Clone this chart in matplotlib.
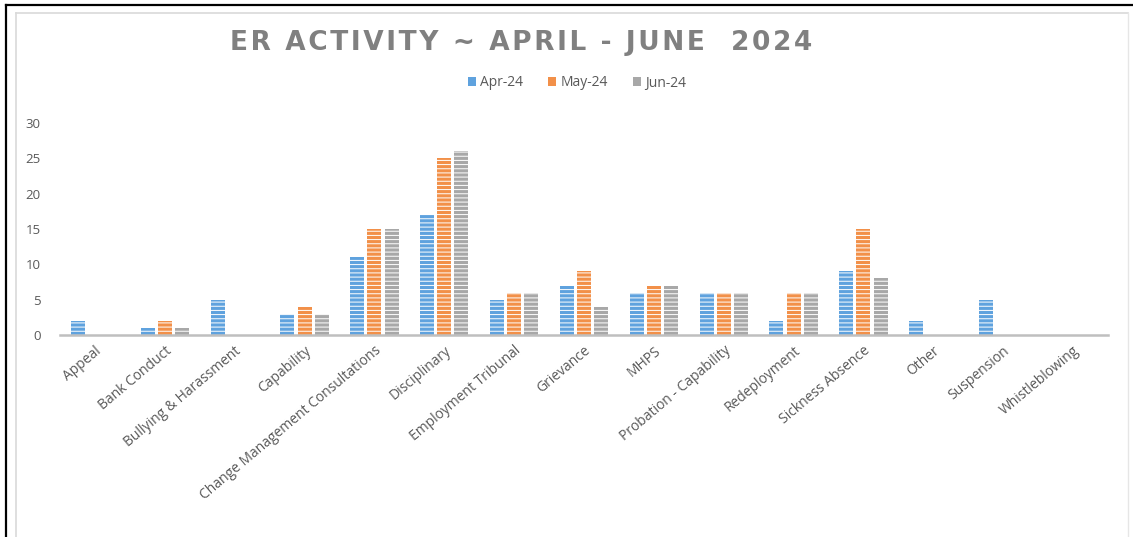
import numpy as np
import matplotlib
matplotlib.use("Agg")
import matplotlib.pyplot as plt
from matplotlib.lines import Line2D
from matplotlib.patches import Patch

plt.rcParams['font.family'] = ['Open Sans', 'DejaVu Sans']
plt.rcParams['hatch.linewidth'] = 0.7

# ER case counts per category, April - June 2024
categories = ["Appeal", "Bank Conduct", "Bullying & Harassment", "Capability",
              "Change Management Consultations", "Disciplinary", "Employment Tribunal",
              "Grievance", "MHPS", "Probation - Capability", "Redeployment",
              "Sickness Absence", "Other", "Suspension", "Whistleblowing"]
apr_24 = [2, 1, 5, 3, 11, 17, 5, 7, 6, 6, 2, 9, 2, 5, 0]
may_24 = [0, 2, 0, 4, 15, 25, 6, 9, 7, 6, 6, 15, 0, 0, 0]
jun_24 = [0, 1, 0, 3, 15, 26, 6, 4, 7, 6, 6, 8, 0, 0, 0]
series_names = ["Apr-24", "May-24", "Jun-24"]
y_ticks = [0, 5, 10, 15, 20, 25, 30]
title = "ER ACTIVITY ~ APRIL - JUNE  2024"

W, H = 1133, 537
fig = plt.figure(figsize=(W / 100, H / 100), dpi=100)

# frame lines around the chart (pixel positions converted to figure fractions)
def fig_line(x0, y0, x1, y1, color, lw):
    fig.add_artist(Line2D([x0 / W, x1 / W], [1 - y0 / H, 1 - y1 / H],
                          transform=fig.transFigure, color=color, lw=lw))

fig_line(6, 5, W, 5, "black", 1.6)
fig_line(6, 5, 6, H, "black", 1.6)
fig_line(16, 13, 1128, 13, "#d9d9d9", 1.2)
fig_line(16, 13, 16, H, "#d9d9d9", 1.2)
fig_line(1128, 13, 1128, H, "#e6e6e6", 1.0)

ax = fig.add_axes([60 / W, 1 - 335 / H, 1048 / W, 212 / H])

x = np.arange(len(categories))
colors = ["#5fa2de", "#f29049", "#a8a8a8"]
width = 0.2
step = 0.245
for i, (vals, c) in enumerate(zip([apr_24, may_24, jun_24], colors)):
    ax.bar(x + (i - 1) * step, vals, width, color=c, edgecolor="white",
           linewidth=0, hatch="----", zorder=2)

ax.set_xlim(-0.5, len(categories) - 0.5)
ax.set_ylim(0, 30)
ax.set_yticks(y_ticks)
ax.set_xticks(x)
ax.set_xticklabels(categories, rotation=40, ha="right", rotation_mode="anchor",
                   fontsize=10, color="#595959")
ax.tick_params(axis="y", length=0, labelsize=9.5, labelcolor="#595959", pad=14)
ax.tick_params(axis="x", length=0, pad=6)

for side in ["top", "right", "left"]:
    ax.spines[side].set_visible(False)
ax.spines["bottom"].set_color("#bfbfbf")
ax.spines["bottom"].set_linewidth(1.8)
ax.spines["bottom"].set_zorder(3)

# wide-tracked title
fig.text(521 / W, 1 - 43 / H, "\u200a".join(title), ha="center", va="center",
         fontsize=19, fontweight="bold", color="#808080", family="DejaVu Sans")

# plain square legend keys
handles = [Patch(facecolor=c, edgecolor="none") for c in colors]
fig.legend(handles, series_names, loc="center", bbox_to_anchor=(577 / W, 1 - 83 / H),
           ncol=3, frameon=False, fontsize=10, labelcolor="#595959",
           handlelength=0.6, handleheight=0.6, handletextpad=0.3, columnspacing=1.8)

fig.savefig("out.png", dpi=100, facecolor="white")
